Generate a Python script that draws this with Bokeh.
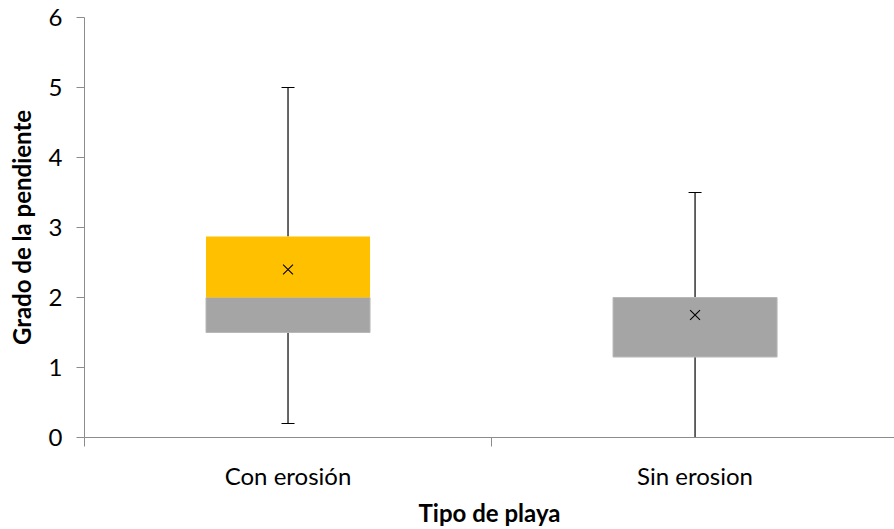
from bokeh.plotting import figure
from bokeh.models import Range1d, FixedTicker, ColumnDataSource
from bokeh.embed import file_html
from bokeh.resources import INLINE

# Box-plot summary per beach type
categories = ["Con erosión", "Sin erosion"]
minimum = [0.2, 0.0]
q1 = [1.5, 1.15]
median = [2.0, 2.0]
q3 = [2.87, 2.0]
maximum = [5.0, 3.5]
mean = [2.4, 1.75]

y_ticks = [0, 1, 2, 3, 4, 5, 6]

FONT = "Lato"
AXIS_GREY = "#8c8c8c"

xs = [i + 0.5 for i in range(len(categories))]
src = ColumnDataSource(dict(x=xs, mn=minimum, q1=q1, med=median, q3=q3,
                            mx=maximum, mean=mean))

p = figure(width=894, height=529, output_backend="svg", toolbar_location=None,
           x_range=Range1d(0, 1.99), y_range=Range1d(0, 6),
           min_border_left=84, min_border_right=0, min_border_top=17,
           min_border_bottom=91)
p.outline_line_color = None
p.grid.visible = False
p.background_fill_color = "white"
p.border_fill_color = "white"

# whiskers
p.segment(x0="x", y0="mn", x1="x", y1="q1", source=src, line_color="black", line_width=1.2)
p.segment(x0="x", y0="q3", x1="x", y1="mx", source=src, line_color="black", line_width=1.2)
p.scatter(x="x", y="mn", source=src, marker="dash", size=13, line_color="black", line_width=1.2)
p.scatter(x="x", y="mx", source=src, marker="dash", size=13, line_color="black", line_width=1.2)

# boxes: lower (grey) and upper (orange) halves
p.vbar(x="x", bottom="q1", top="med", width=0.403, source=src,
       fill_color="#a5a5a5", line_color="#b8b8b8", line_width=1)
p.vbar(x="x", bottom="med", top="q3", width=0.403, source=src,
       fill_color="#ffc000", line_color=None)

# mean markers
p.scatter(x="x", y="mean", source=src, marker="x", size=14, line_color="black", line_width=1.1)

# y axis
ya = p.yaxis[0]
ya.ticker = FixedTicker(ticks=y_ticks)
ya.axis_line_color = AXIS_GREY
ya.major_tick_line_color = AXIS_GREY
ya.major_tick_out = 8
ya.major_tick_in = 0
ya.minor_tick_line_color = None
ya.major_label_text_font = FONT
ya.major_label_text_font_size = "24px"
ya.major_label_text_color = "black"
ya.major_label_standoff = 14
ya.axis_label = "Grado de la pendiente"
ya.axis_label_text_font = FONT
ya.axis_label_text_font_size = "24px"
ya.axis_label_text_font_style = "bold"
ya.axis_label_text_color = "black"
ya.axis_label_standoff = 10

# x axis: labels at category centres, ticks at category boundaries
xa = p.xaxis[0]
xa.ticker = FixedTicker(ticks=xs, minor_ticks=[0, 1, 2])
xa.major_label_overrides = {x: c for x, c in zip(xs, categories)}
xa.axis_line_color = AXIS_GREY
xa.major_tick_line_color = None
xa.major_tick_out = 0
xa.major_tick_in = 0
xa.minor_tick_line_color = AXIS_GREY
xa.minor_tick_out = 9
xa.minor_tick_in = 0
xa.major_label_text_font = FONT
xa.major_label_text_font_size = "24px"
xa.major_label_text_color = "black"
xa.major_label_standoff = 14
xa.axis_label = "Tipo de playa"
xa.axis_label_text_font = FONT
xa.axis_label_text_font_size = "24px"
xa.axis_label_text_font_style = "bold"
xa.axis_label_text_color = "black"
xa.axis_label_standoff = 5

open("out.html", "w").write(file_html(p, INLINE))
